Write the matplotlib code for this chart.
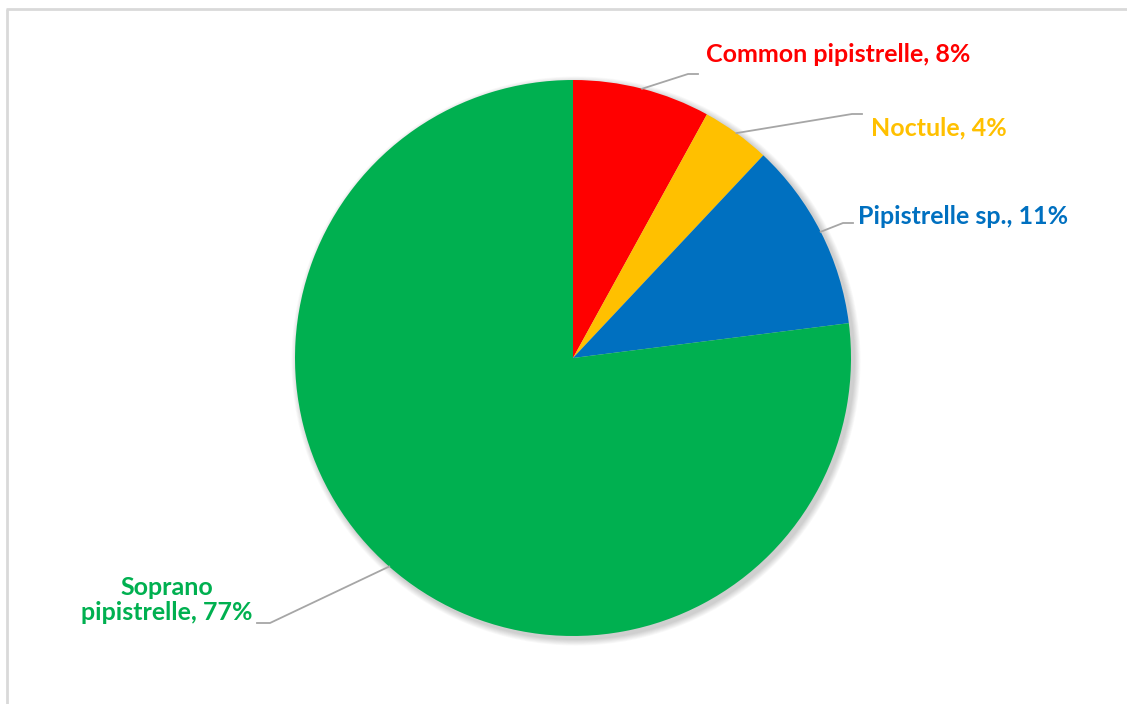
import numpy as np
import matplotlib.pyplot as plt

species = ['Common pipistrelle', 'Noctule', 'Pipistrelle sp.', 'Soprano\npipistrelle']
share = [8, 4, 11, 77]
colors = ['#FF0000', '#FFC000', '#0070C0', '#00B050']

W, H = 1127, 704
fig = plt.figure(figsize=(W / 100, H / 100), dpi=100)
ax = fig.add_axes([0, 0, 1, 1])
ax.axis('off')

cx, cy, r = 573, H - 358, 278

# soft shadow under the pie
for k in range(8):
    ax.add_patch(plt.Circle((cx + 3, cy - 3), r + 1 + k * 0.8, color='black',
                            alpha=0.025, lw=0, zorder=1))

ax.pie(share, colors=colors, startangle=90, counterclock=False,
       center=(cx, cy), radius=r, wedgeprops=dict(lw=0, zorder=2))
ax.set_xlim(0, W)
ax.set_ylim(0, H)
ax.set_aspect('auto')

# label layout: elbow point, end of horizontal, text position, alignment
elbow = [(688, 74), (852, 114), (843, 223), (270, 623)]
tail = [(698, 74), (862, 114), (853, 223), (257, 623)]
txt = [(706, 54, 'left'), (871, 128, 'left'), (858, 217, 'left'), (167, 600, 'center')]

start = 90.0
for i, v in enumerate(share):
    mid = np.radians(start - v * 3.6 / 2)
    start -= v * 3.6
    px, py = cx + r * np.cos(mid), cy + r * np.sin(mid)
    ex, ey = elbow[i]
    tx, ty = tail[i]
    ax.plot([px, ex, tx], [py, H - ey, H - ty], color='#A6A6A6', lw=1.3, zorder=3)
    x, y, ha = txt[i]
    ax.text(x, H - y, f'{species[i]}, {v}%', color=colors[i], fontsize=18,
            fontweight='bold', family='Lato', ha=ha, va='center',
            multialignment='center', linespacing=1.15, zorder=4)

# chart border (left and top only)
ax.plot([7, 7], [-5, H - 9], color='#D9D9D9', lw=2, zorder=0,
        solid_capstyle='butt', clip_on=False)
ax.plot([6, W + 5], [H - 9, H - 9], color='#D9D9D9', lw=2, zorder=0,
        solid_capstyle='butt', clip_on=False)

fig.savefig('out.png', dpi=100, facecolor='white', edgecolor='none')
